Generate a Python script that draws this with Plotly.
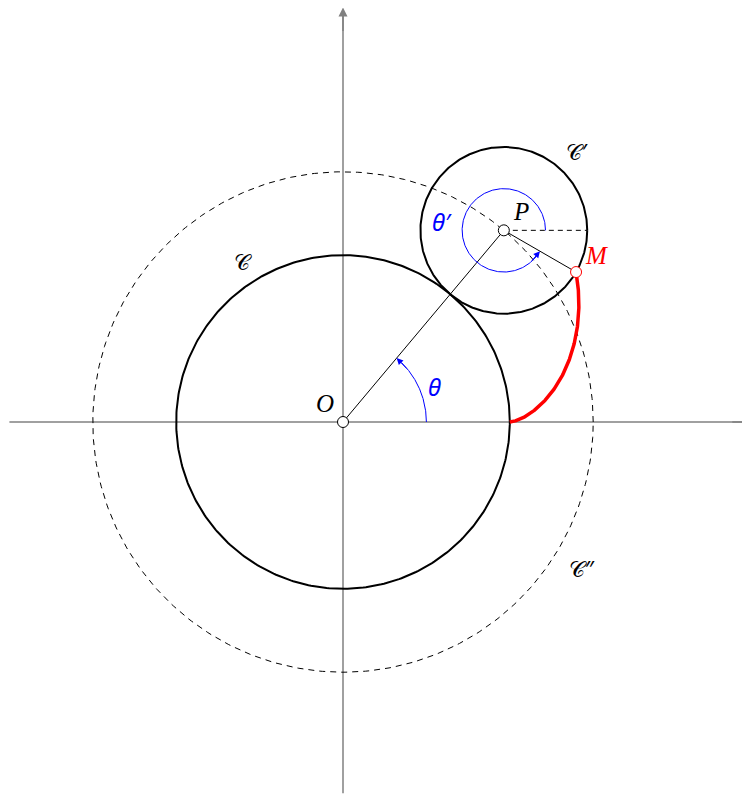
import numpy as np
import plotly.graph_objects as go

# Geometry (units)
R = 2.0          # fixed circle C
r = 1.0          # rolling circle C'
theta_deg = 50.0 # angle theta
theta_arc_r = 1.0
thetap_arc_r = 0.5
x_axis = [-4.0, 4.95]
y_axis = [-4.45, 4.97]

th = np.radians(theta_deg)
k = (R + r) / r
P = np.array([(R + r) * np.cos(th), (R + r) * np.sin(th)])
M = P - r * np.array([np.cos(k * th), np.sin(k * th)])

labels = {
    "O": (-0.22, 0.22), "P": (P[0] + 0.21, P[1] + 0.22), "M": (M[0] + 0.25, M[1] + 0.2),
    "C": (-1.2, 1.93), "C'": (2.81, 3.25), "C''": (2.87, -1.75),
    "theta": (1.1, 0.42), "thetap": (P[0] - 0.74, P[1] + 0.11),
}

fig = go.Figure()

def circ(cx, cy, rad, a0=0, a1=2*np.pi, n=400):
    t = np.linspace(a0, a1, n)
    return cx + rad*np.cos(t), cy + rad*np.sin(t)

gray = "#808080"
fig.add_trace(go.Scatter(x=x_axis, y=[0, 0], mode="lines", line=dict(color=gray, width=1.5), hoverinfo="skip"))
fig.add_trace(go.Scatter(x=[0, 0], y=[y_axis[0], y_axis[1]-0.1], mode="lines", line=dict(color=gray, width=1.5), hoverinfo="skip"))

x, y = circ(0, 0, R + r)
fig.add_trace(go.Scatter(x=x, y=y, mode="lines", line=dict(color="black", width=1, dash="6px,5px"), hoverinfo="skip"))
x, y = circ(0, 0, R)
fig.add_trace(go.Scatter(x=x, y=y, mode="lines", line=dict(color="black", width=2), hoverinfo="skip"))
x, y = circ(P[0], P[1], r)
fig.add_trace(go.Scatter(x=x, y=y, mode="lines", line=dict(color="black", width=2), hoverinfo="skip"))
fig.add_trace(go.Scatter(x=[P[0], P[0]+r], y=[P[1], P[1]], mode="lines", line=dict(color="black", width=1, dash="5px,4px"), hoverinfo="skip"))
fig.add_trace(go.Scatter(x=[0, P[0]], y=[0, P[1]], mode="lines", line=dict(color="black", width=1), hoverinfo="skip"))
fig.add_trace(go.Scatter(x=[P[0], M[0]], y=[P[1], M[1]], mode="lines", line=dict(color="black", width=1), hoverinfo="skip"))

t = np.linspace(0, th, 300)
ex = (R + r)*np.cos(t) - r*np.cos(k*t)
ey = (R + r)*np.sin(t) - r*np.sin(k*t)
fig.add_trace(go.Scatter(x=ex, y=ey, mode="lines", line=dict(color="red", width=3.5), hoverinfo="skip"))

blue = "#0000ff"
x, y = circ(0, 0, theta_arc_r, 0, th - 0.08, 200)
fig.add_trace(go.Scatter(x=x, y=y, mode="lines", line=dict(color=blue, width=1), hoverinfo="skip"))
end_p = k*th - np.pi + 2*np.pi  # 330 deg
x, y = circ(P[0], P[1], thetap_arc_r, 0, end_p - 0.15, 300)
fig.add_trace(go.Scatter(x=x, y=y, mode="lines", line=dict(color=blue, width=1), hoverinfo="skip"))

def arrow(tip, tail, color, size=1.0, width=1):
    fig.add_annotation(x=tip[0], y=tip[1], ax=tail[0], ay=tail[1], xref="x", yref="y", axref="x", ayref="y",
                       showarrow=True, arrowhead=2, arrowsize=size, arrowwidth=width, arrowcolor=color, text="")

arrow((theta_arc_r*np.cos(th), theta_arc_r*np.sin(th)),
      (theta_arc_r*np.cos(th-0.2), theta_arc_r*np.sin(th-0.2)), blue, 1.3, 1)
arrow((P[0]+thetap_arc_r*np.cos(end_p), P[1]+thetap_arc_r*np.sin(end_p)),
      (P[0]+thetap_arc_r*np.cos(end_p-0.35), P[1]+thetap_arc_r*np.sin(end_p-0.35)), blue, 1.3, 1)
arrow((0, y_axis[1]), (0, y_axis[1]-0.3), gray, 1.2, 1.5)
arrow((x_axis[1]+0.05, 0), (x_axis[1]-0.3, 0), gray, 1.2, 1.5)

fig.add_trace(go.Scatter(x=[0, P[0]], y=[0, P[1]], mode="markers",
                         marker=dict(size=11, color="white", line=dict(color="black", width=1)), hoverinfo="skip"))
fig.add_trace(go.Scatter(x=[M[0]], y=[M[1]], mode="markers",
                         marker=dict(size=11, color="white", line=dict(color="red", width=1)), hoverinfo="skip"))

font = "Liberation Serif"
def lab(key, text, color="black", size=25, fam=font):
    fig.add_annotation(x=labels[key][0], y=labels[key][1], text=text, showarrow=False,
                       font=dict(family=fam, size=size, color=color), xref="x", yref="y")

lab("O", "<i>O</i>")
lab("P", "<i>P</i>")
lab("M", "<i>M</i>", "red")
lab("C", "𝒞", fam="Noto Sans", size=22)
lab("C'", "𝒞′", fam="Noto Sans", size=22)
lab("C''", "𝒞″", fam="Noto Sans", size=22)
lab("theta", "<i>θ</i>", blue, 24, "Noto Sans")
lab("thetap", "<i>θ′</i>", blue, 24, "Noto Sans")

off = 8
W, H = 750 - off, 794 - off
ox, oy = 343 - off, 422 - off
s = 83.4
fig.update_layout(
    width=W, height=H, margin=dict(l=0, r=0, t=0, b=0),
    plot_bgcolor="white", paper_bgcolor="white", showlegend=False,
    xaxis=dict(range=[-ox/s, (W-ox)/s], visible=False, fixedrange=True),
    yaxis=dict(range=[-(H-oy)/s, oy/s], visible=False, fixedrange=True),
)
fig.write_html("out.html")
